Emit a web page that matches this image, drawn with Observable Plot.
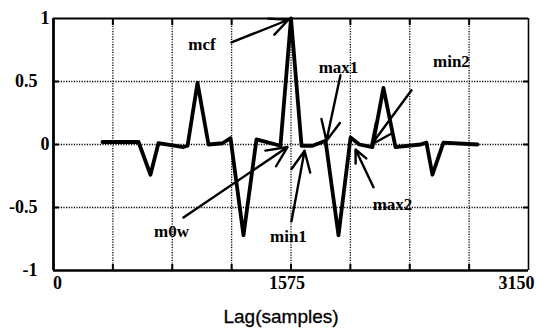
<!DOCTYPE html>
<html>
<head>
<meta charset="utf-8">
<script src="https://cdn.jsdelivr.net/npm/d3@7"></script>
<script src="https://cdn.jsdelivr.net/npm/@observablehq/plot@0.6"></script>
<style>
  html, body { margin: 0; padding: 0; background: #fff; }
  #chart svg { display: block; }
</style>
</head>
<body>
<div id="chart"></div>
<script>
// ---- data ----
const lag  = [325, 564, 643, 696, 862, 889, 955, 1028, 1121, 1174, 1260, 1346, 1505, 1575, 1645, 1718, 1804, 1890, 1970, 2029, 2115, 2188, 2268, 2434, 2473, 2513, 2586, 2812];
const corr = [0.02, 0.02, -0.24, 0.01, -0.02, -0.01, 0.49, 0.0, 0.01, 0.05, -0.72, 0.04, -0.01, 1.0, -0.01, -0.01, 0.03, -0.72, 0.055, 0.0, -0.02, 0.45, -0.02, 0.0, 0.015, -0.24, 0.015, 0.0];

const xGrid = [393.75, 787.5, 1181.25, 1575, 1968.75, 2362.5, 2756.25];
const yGrid = [0.5, 0, -0.5];
const xTickLabels = [0, 1575, 3150];
const yTickLabelsNear = [1, 0];
const yTickLabelsFar = [0.5, -0.5, -1];

const annLabels = ["mcf", "max1", "min2", "max2", "m0w", "min1"];
const annTextX  = [985, 1890, 2639, 2248, 783, 1558];
const annTextY  = [0.79, 0.61, 0.66, -0.48, -0.69, -0.73];
const arrowX1   = [1180, 1903, 2374, 2122, 862, 1578];
const arrowY1   = [0.81, 0.55, 0.43, -0.34, -0.58, -0.61];
const arrowX2   = [1558, 1810, 2109, 2003, 1552, 1665];
const arrowY2   = [0.99, 0.03, 0.0, -0.04, -0.02, -0.05];

const series = lag.map((x, i) => ({x, y: corr[i]}));
const anns = annLabels.map((t, i) => ({t, tx: annTextX[i], ty: annTextY[i], x1: arrowX1[i], y1: arrowY1[i], x2: arrowX2[i], y2: arrowY2[i]}));

const serif = "'Liberation Serif', 'Times New Roman', serif";
const gridStyle = {stroke: "#000", strokeWidth: 1.3, strokeDasharray: "1.2,1.4"};
const noText = () => "";
const tickFont = {fontFamily: serif, fontWeight: "bold", fontSize: 18, fill: "#000"};

const chart = Plot.plot({
  width: 536,
  height: 331,
  marginLeft: 53,
  marginRight: 8,
  marginTop: 18,
  marginBottom: 61,
  style: {background: "#fff"},
  x: {domain: [0, 3150], axis: null},
  y: {domain: [-1, 1], axis: null},
  marks: [
    // dotted grid
    Plot.ruleX(xGrid, {...gridStyle}),
    Plot.ruleY(yGrid, {...gridStyle}),
    // inward ticks
    Plot.axisX({ticks: xGrid, anchor: "bottom", tickSize: -6, strokeWidth: 2, tickFormat: noText, label: null}),
    Plot.axisX({ticks: xGrid, anchor: "top", tickSize: -6, strokeWidth: 2, tickFormat: noText, label: null}),
    Plot.axisY({ticks: yGrid, anchor: "left", tickSize: -6, strokeWidth: 2, tickFormat: noText, label: null}),
    Plot.axisY({ticks: yGrid, anchor: "right", tickSize: -6, strokeWidth: 2, tickFormat: noText, label: null}),
    // frame
    Plot.ruleX([0], {strokeWidth: 2.8}),
    Plot.ruleY([-1], {strokeWidth: 2.5}),
    Plot.ruleY([1], {strokeWidth: 2.2}),
    Plot.ruleX([3150], {strokeWidth: 1.6}),
    // y tick labels
    Plot.text(yTickLabelsNear, {y: d => d, text: d => String(d), frameAnchor: "left", textAnchor: "end", dx: -4, ...tickFont}),
    Plot.text(yTickLabelsFar, {y: d => d, text: d => String(d), frameAnchor: "left", textAnchor: "end", dx: -16, ...tickFont}),
    // x tick labels
    Plot.text([xTickLabels[0]], {x: d => d, text: d => String(d), frameAnchor: "bottom", dy: 18, dx: 4, ...tickFont}),
    Plot.text([xTickLabels[1]], {x: d => d, text: d => String(d), frameAnchor: "bottom", dy: 18, dx: -4, ...tickFont}),
    Plot.text([xTickLabels[2]], {x: d => d, text: d => String(d), frameAnchor: "bottom", dy: 18, dx: -12, ...tickFont}),
    // x axis title
    Plot.text(["Lag(samples)"], {frameAnchor: "bottom", dx: -10, dy: 52, fontSize: 19, fontFamily: "'Liberation Sans', Arial, sans-serif", fill: "#000", stroke: "#000", strokeWidth: 0.3}),
    // signal
    Plot.line(series, {x: "x", y: "y", stroke: "#000", strokeWidth: 3.8, strokeLinejoin: "round"}),
    // annotations
    Plot.arrow(anns, {x1: "x1", y1: "y1", x2: "x2", y2: "y2", stroke: "#000", strokeWidth: 2.4, headLength: 14, headAngle: 50}),
    Plot.text(anns, {x: "tx", y: "ty", text: "t", fontSize: 17, fontWeight: "bold", fontFamily: serif, fill: "#000"})
  ]
});
document.getElementById("chart").appendChild(chart);
</script>
</body>
</html>
